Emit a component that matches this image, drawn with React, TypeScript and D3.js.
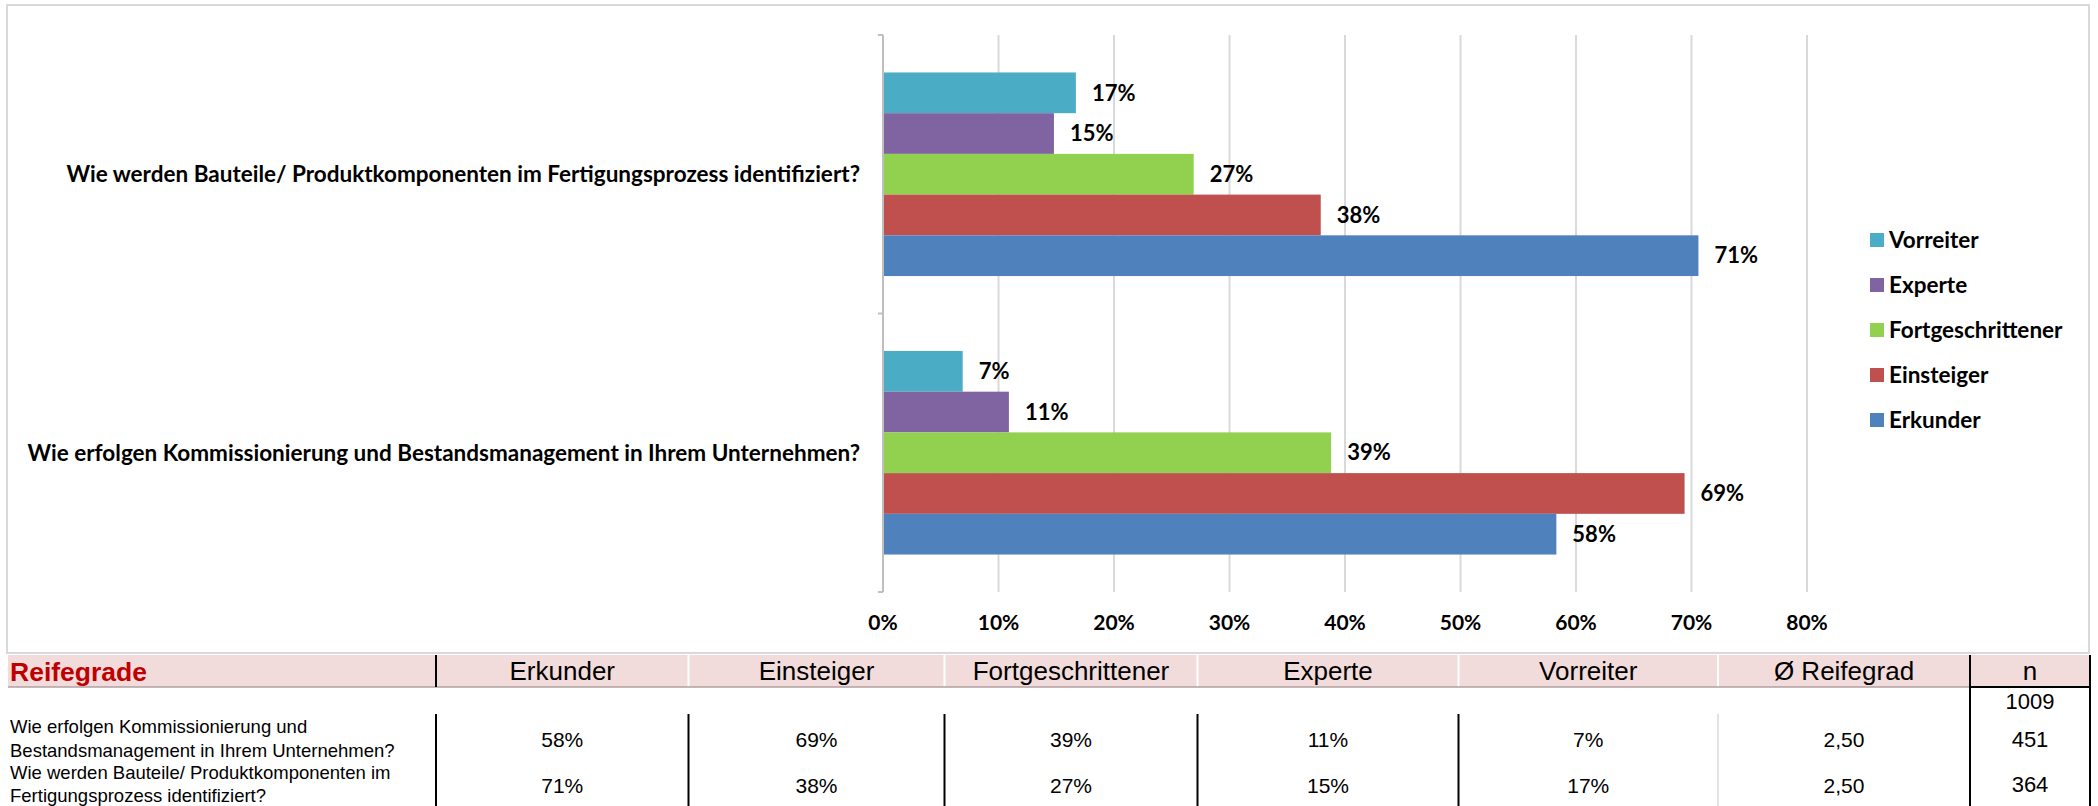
import React from "react";
import * as d3 from "d3";

const categories = [
  "Wie werden Bauteile/ Produktkomponenten im Fertigungsprozess identifiziert?",
  "Wie erfolgen Kommissionierung und Bestandsmanagement in Ihrem Unternehmen?",
];
const seriesNames = ["Vorreiter", "Experte", "Fortgeschrittener", "Einsteiger", "Erkunder"];
const seriesColors = ["#4BACC6", "#8064A2", "#92D050", "#C0504D", "#4F81BD"];
// values per series, in the order of categories (percent)
const vorreiter = [16.7, 6.9];
const experte = [14.8, 10.9];
const fortgeschrittener = [26.9, 38.8];
const einsteiger = [37.9, 69.4];
const erkunder = [70.6, 58.3];
const seriesValues = [vorreiter, experte, fortgeschrittener, einsteiger, erkunder];
const xTicks = [0, 10, 20, 30, 40, 50, 60, 70, 80];

// table
const tableTitle = "Reifegrade";
const tableColumns = ["Erkunder", "Einsteiger", "Fortgeschrittener", "Experte", "Vorreiter", "Ø Reifegrad", "n"];
const nTotal = "1009";
const rowLabels = [
  ["Wie erfolgen Kommissionierung und", "Bestandsmanagement in Ihrem Unternehmen?"],
  ["Wie werden Bauteile/ Produktkomponenten im", "Fertigungsprozess identifiziert?"],
];
const row1 = ["58%", "69%", "39%", "11%", "7%", "2,50", "451"];
const row2 = ["71%", "38%", "27%", "15%", "17%", "2,50", "364"];
const tableRows = [row1, row2];

const W = 2098;
const H = 806;
const chartFont = "Lato, 'Open Sans', sans-serif";
const tableFont = "'Liberation Sans', Arial, sans-serif";

export default function App() {
  const x = d3.scaleLinear().domain([0, 80]).range([883, 1807]);
  const yCat = d3.scaleBand<string>().domain(categories).range([35, 592]);
  const ySer = d3
    .scaleBand<string>()
    .domain(seriesNames)
    .range([0, yCat.bandwidth()])
    .paddingInner(0)
    .paddingOuter(0.92);

  const colEdges = [436, 688.5, 944.5, 1197.5, 1458.5, 1718, 1970, 2090];
  const colCenters = colEdges.slice(0, -1).map((e, i) => (e + colEdges[i + 1]) / 2);
  const headerTop = 655;
  const headerBottom = 687;
  const rowValueY = [739, 785];
  const rowLabelBase = [[733, 756.5], [779, 801.5]];
  const nY = [739, 784];

  const legendY = d3.scalePoint<string>().domain(seriesNames).range([240, 420]);

  return (
    <svg
      width={W}
      height={H}
      style={{ position: "absolute", left: 0, top: 0, background: "#fff" }}
    >
      {/* chart frame */}
      <rect x={7} y={5} width={2082} height={648} fill="#fff" stroke="#d9d9d9" strokeWidth={2} />

      {/* gridlines */}
      {xTicks.filter((t) => t > 0).map((t) => (
        <line key={t} x1={x(t)} x2={x(t)} y1={35} y2={592} stroke="#d9d9d9" strokeWidth={2} />
      ))}

      {/* bars */}
      {categories.map((c, ci) => (
        <g key={c} transform={`translate(0,${yCat(c)})`}>
          {seriesNames.map((s, si) => {
            const v = seriesValues[si][ci];
            const y0 = ySer(s)!;
            return (
              <g key={s}>
                <rect
                  x={x(0)}
                  y={y0}
                  width={x(v) - x(0)}
                  height={ySer.bandwidth()}
                  fill={seriesColors[si]}
                />
                <text
                  x={x(v) + 16}
                  y={y0 + ySer.bandwidth() / 2}
                  dy="0.35em"
                  fontFamily={chartFont}
                  fontWeight={700}
                  fontSize={22}
                  fill="#000"
                >
                  {`${Math.round(v)}%`}
                </text>
              </g>
            );
          })}
        </g>
      ))}

      {/* axis line + ticks */}
      <line x1={x(0)} x2={x(0)} y1={35} y2={592} stroke="#bfbfbf" strokeWidth={2} />
      {[35, 35 + yCat.step(), 592].map((yy, i) => (
        <line key={i} x1={x(0) - 5} x2={x(0)} y1={yy} y2={yy} stroke="#bfbfbf" strokeWidth={2} />
      ))}

      {/* category labels */}
      {categories.map((c) => (
        <text
          key={c}
          x={860}
          y={yCat(c)! + yCat.bandwidth() / 2}
          dy="0.35em"
          textAnchor="end"
          fontFamily={chartFont}
          fontWeight={700}
          fontSize={22.5}
          fill="#000"
        >
          {c}
        </text>
      ))}

      {/* x tick labels */}
      {xTicks.map((t) => (
        <text
          key={t}
          x={x(t)}
          y={623}
          dy="0.35em"
          textAnchor="middle"
          fontFamily={chartFont}
          fontWeight={700}
          fontSize={21}
          fill="#000"
        >
          {`${t}%`}
        </text>
      ))}

      {/* legend */}
      {seriesNames.map((s, si) => (
        <g key={s} transform={`translate(1870,${legendY(s)})`}>
          <rect x={0} y={-7} width={14} height={14} fill={seriesColors[si]} />
          <text
            x={19}
            y={0}
            dy="0.35em"
            fontFamily={chartFont}
            fontWeight={700}
            fontSize={22.5}
            fill="#000"
          >
            {s}
          </text>
        </g>
      ))}

      {/* table header */}
      <rect x={8} y={headerTop} width={2090 - 8} height={headerBottom - headerTop} fill="#F2DCDB" />
      <text
        x={10}
        y={(headerTop + headerBottom) / 2}
        dy="0.36em"
        fontFamily={tableFont}
        fontWeight={700}
        fontSize={26.5}
        fill="#C00000"
      >
        {tableTitle}
      </text>
      {tableColumns.map((c, i) => (
        <text
          key={c}
          x={colCenters[i]}
          y={(headerTop + headerBottom) / 2}
          dy="0.36em"
          textAnchor="middle"
          fontFamily={tableFont}
          fontSize={26}
          fill="#000"
        >
          {c}
        </text>
      ))}
      {colEdges.slice(1, 6).map((e) => (
        <line key={e} x1={e} x2={e} y1={headerTop} y2={headerBottom} stroke="#fff" strokeWidth={2} />
      ))}
      <line x1={8} x2={1970} y1={headerBottom} y2={headerBottom} stroke="#b0a0a0" strokeWidth={1.5} />
      <line x1={1970} x2={2090} y1={headerBottom} y2={headerBottom} stroke="#000" strokeWidth={2} />
      <line x1={colEdges[0]} x2={colEdges[0]} y1={headerTop} y2={headerBottom} stroke="#000" strokeWidth={2} />
      <line x1={1970} x2={1970} y1={headerTop} y2={H} stroke="#000" strokeWidth={2} />
      <line x1={2090} x2={2090} y1={headerTop} y2={H} stroke="#000" strokeWidth={2} />

      {/* table body */}
      {colEdges.slice(0, 5).map((e) => (
        <line key={e} x1={e} x2={e} y1={714} y2={H} stroke="#000" strokeWidth={2} />
      ))}
      <line x1={1718} x2={1718} y1={714} y2={H} stroke="#d9d9d9" strokeWidth={1.5} />
      <text x={2030} y={701} dy="0.36em" textAnchor="middle" fontFamily={tableFont} fontSize={22} fill="#000">
        {nTotal}
      </text>
      {tableRows.map((row, ri) => (
        <g key={ri}>
          {rowLabels[ri].map((l, li) => (
            <text
              key={li}
              x={10}
              y={rowLabelBase[ri][li]}
              fontFamily={tableFont}
              fontSize={18.5}
              fill="#000"
            >
              {l}
            </text>
          ))}
          {row.map((v, ci) => (
            <text
              key={ci}
              x={colCenters[ci]}
              y={ci === 6 ? nY[ri] : rowValueY[ri]}
              dy="0.36em"
              textAnchor="middle"
              fontFamily={tableFont}
              fontSize={ci === 6 ? 22 : 21}
              fill="#000"
            >
              {v}
            </text>
          ))}
        </g>
      ))}
    </svg>
  );
}
